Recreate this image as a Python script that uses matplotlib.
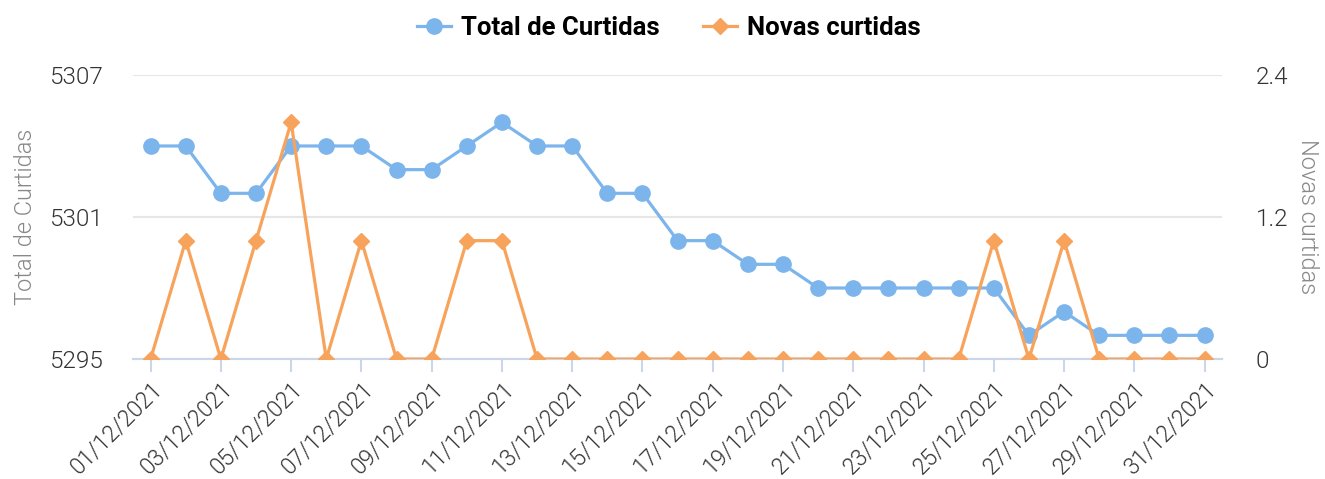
import matplotlib.pyplot as plt

plt.rcParams['font.family'] = ['Roboto', 'DejaVu Sans']

# data
dates = ['%02d/12/2021' % d for d in range(1, 32)]
total = [5304, 5304, 5302, 5302, 5304, 5304, 5304, 5303, 5303, 5304,
         5305, 5304, 5304, 5302, 5302, 5300, 5300, 5299, 5299, 5298,
         5298, 5298, 5298, 5298, 5298, 5296, 5297, 5296, 5296, 5296, 5296]
novas = [0, 1, 0, 1, 2, 0, 1, 0, 0, 1,
         1, 0, 0, 0, 0, 0, 0, 0, 0, 0,
         0, 0, 0, 0, 1, 0, 1, 0, 0, 0, 0]
left_ticks = [5295, 5301, 5307]
right_ticks = [0, 1.2, 2.4]

blue = '#7cb5ec'
orange = '#f7a35c'
axis_col = '#ccd6eb'
txt_col = '#333333'

fig = plt.figure(figsize=(13.25, 4.79), dpi=100)
ax = fig.add_axes([0.1004, 0.2505, 0.822, 0.593])
ax2 = ax.twinx()

x = list(range(len(dates)))
l1, = ax.plot(x, total, color=blue, lw=2.3, marker='o', markersize=11,
              label='Total de Curtidas', zorder=3)
l2, = ax2.plot(x, novas, color=orange, lw=2.3, marker='D', markersize=8.5,
               label='Novas curtidas', zorder=3)

ax.set_xlim(-0.5, len(dates) - 0.5)
ax.set_ylim(5295, 5307)
ax2.set_ylim(0, 2.4)
ax.set_yticks(left_ticks)
ax.set_yticklabels([str(v) for v in left_ticks])
ax2.set_yticks(right_ticks)
ax2.set_yticklabels(['0', '1.2', '2.4'])

ax.grid(axis='y', color='#e6e6e6', lw=1.5)
ax.set_axisbelow(True)

for a in (ax, ax2):
    for s in ('top', 'left', 'right'):
        a.spines[s].set_visible(False)
    a.spines['bottom'].set_color(axis_col)
    a.spines['bottom'].set_linewidth(1.5)
    a.tick_params(axis='y', length=0, labelsize=17.5, colors=txt_col)

ax.set_xticks(x[::2])
ax.set_xticklabels(dates[::2], rotation=45, ha='right', rotation_mode='anchor',
                   fontsize=16.5, color=txt_col, fontweight=300)
ax.tick_params(axis='x', length=9, width=1.5, color=axis_col, pad=4)
ax.tick_params(axis='y', pad=21)
ax2.tick_params(axis='y', pad=24)
for lab in ax.get_yticklabels() + ax2.get_yticklabels():
    lab.set_fontweight(300)

ax.set_ylabel('Total de Curtidas', fontsize=17, color='#888888', labelpad=9,
              fontweight=300)
ax2.set_ylabel('Novas curtidas', fontsize=17, color='#888888', rotation=270,
               labelpad=22, fontweight=300)

fig.legend(handles=[l1, l2], loc='upper center', bbox_to_anchor=(0.505, 1.015),
           ncol=2, frameon=False, prop={'size': 18.5, 'weight': 'bold'},
           handlelength=1.3, columnspacing=1.7, handletextpad=0.4)

fig.savefig('out.png', dpi=100)
